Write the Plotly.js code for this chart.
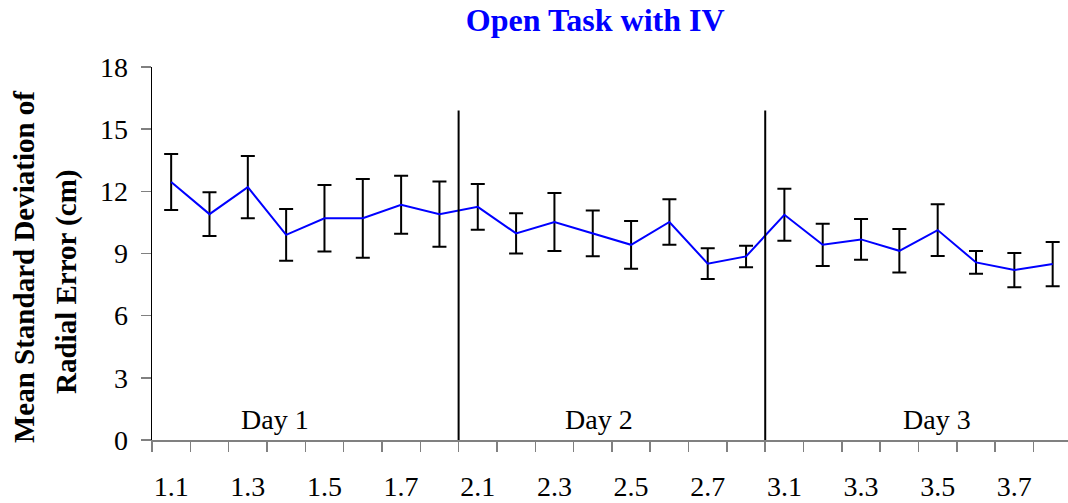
<!DOCTYPE html>
<html>
<head>
<meta charset="utf-8">
<script src="https://cdn.plot.ly/plotly-3.0.1.min.js"></script>
<style>html,body{margin:0;padding:0;background:#fff;}#chart{width:1068px;height:503px;}</style>
</head>
<body>
<div id="chart"></div>
<script>
// ---- data ----
const categories = ['1.1','1.2','1.3','1.4','1.5','1.6','1.7','1.8',
                    '2.1','2.2','2.3','2.4','2.5','2.6','2.7','2.8',
                    '3.1','3.2','3.3','3.4','3.5','3.6','3.7','3.8'];
const meanSD = [12.45, 10.9, 12.2, 9.9, 10.7, 10.7, 11.35, 10.9,
                11.25, 9.97, 10.52, 9.97, 9.42, 10.52, 8.51, 8.86,
                10.87, 9.42, 9.68, 9.13, 10.13, 8.57, 8.2, 8.49];
const errSD = [1.35, 1.05, 1.5, 1.25, 1.6, 1.9, 1.4, 1.57,
               1.1, 0.97, 1.4, 1.1, 1.15, 1.1, 0.74, 0.52,
               1.25, 1.02, 0.98, 1.05, 1.25, 0.55, 0.83, 1.07];
const tickLabels = ['1.1','1.3','1.5','1.7','2.1','2.3','2.5','2.7','3.1','3.3','3.5','3.7'];
const dayLabels = ['Day 1','Day 2','Day 3'];

const FONT = '"Liberation Serif", "Times New Roman", Times, serif';
const xIdx = categories.map((c, i) => i);
const tickVals = tickLabels.map(t => categories.indexOf(t));

const trace = {
  x: xIdx,
  y: meanSD,
  type: 'scatter',
  mode: 'lines',
  line: {color: '#0000FF', width: 2},
  error_y: {type: 'data', array: errSD, visible: true, color: '#000000', thickness: 2, width: 7},
  hoverinfo: 'skip',
  showlegend: false
};

// day separator positions (between category groups of 8)
const perDay = 8;
const shapes = [1, 2].map(d => ({
  type: 'line', xref: 'x', yref: 'y',
  x0: d * perDay - 0.5, x1: d * perDay - 0.5, y0: 0, y1: 15.9,
  line: {color: '#000000', width: 2}
}));

const dayX = [2.72, 11.15, 19.99];
const annotations = dayLabels.map((t, i) => ({
  text: t, xref: 'x', yref: 'y', x: dayX[i], y: 1.0,
  xanchor: 'center', yanchor: 'middle', showarrow: false,
  font: {family: FONT, size: 28, color: '#000000'}
}));
annotations.push({
  text: '<b>Mean Standard Deviation of</b>', xref: 'paper', yref: 'paper',
  x: -0.1397, y: 0.4638, textangle: -90, xanchor: 'center', yanchor: 'middle',
  showarrow: false, font: {family: FONT, size: 29, color: '#000000'}
});
annotations.push({
  text: '<b>Radial Error (cm)</b>', xref: 'paper', yref: 'paper',
  x: -0.0928, y: 0.4236, textangle: -90, xanchor: 'center', yanchor: 'middle',
  showarrow: false, font: {family: FONT, size: 29, color: '#000000'}
});

const layout = {
  width: 1068, height: 503,
  margin: {l: 152, r: 0, t: 67, b: 63, pad: 0},
  paper_bgcolor: '#ffffff', plot_bgcolor: '#ffffff',
  title: {
    text: '<b>Open Task with IV</b>',
    font: {family: FONT, size: 32, color: '#0000FF'},
    xref: 'paper', x: 0.4838, xanchor: 'center',
    yref: 'container', y: 0.96, yanchor: 'middle'
  },
  xaxis: {
    range: [-0.5, 23.4],
    tickmode: 'array', tickvals: tickVals, ticktext: tickLabels,
    ticks: 'outside', ticklen: 21, tickcolor: 'rgba(0,0,0,0)',
    minor: {tick0: -0.5, dtick: 1, ticks: 'outside', ticklen: 10, tickcolor: '#808080', tickwidth: 1.5, showgrid: false},
    showline: true, linecolor: '#808080', linewidth: 1.5,
    showgrid: false, zeroline: false,
    tickfont: {family: FONT, size: 28, color: '#000000'}
  },
  yaxis: {
    range: [0, 18], tickmode: 'linear', tick0: 0, dtick: 3,
    ticks: 'outside', ticklen: 10, tickcolor: '#808080', tickwidth: 1.5,
    ticklabelstandoff: 7,
    showline: true, linecolor: '#000000', linewidth: 1.5,
    showgrid: false, zeroline: false,
    tickfont: {family: FONT, size: 28, color: '#000000'}
  },
  shapes: shapes,
  annotations: annotations,
  showlegend: false
};

Plotly.newPlot('chart', [trace], layout, {staticPlot: true, displayModeBar: false});
</script>
</body>
</html>
